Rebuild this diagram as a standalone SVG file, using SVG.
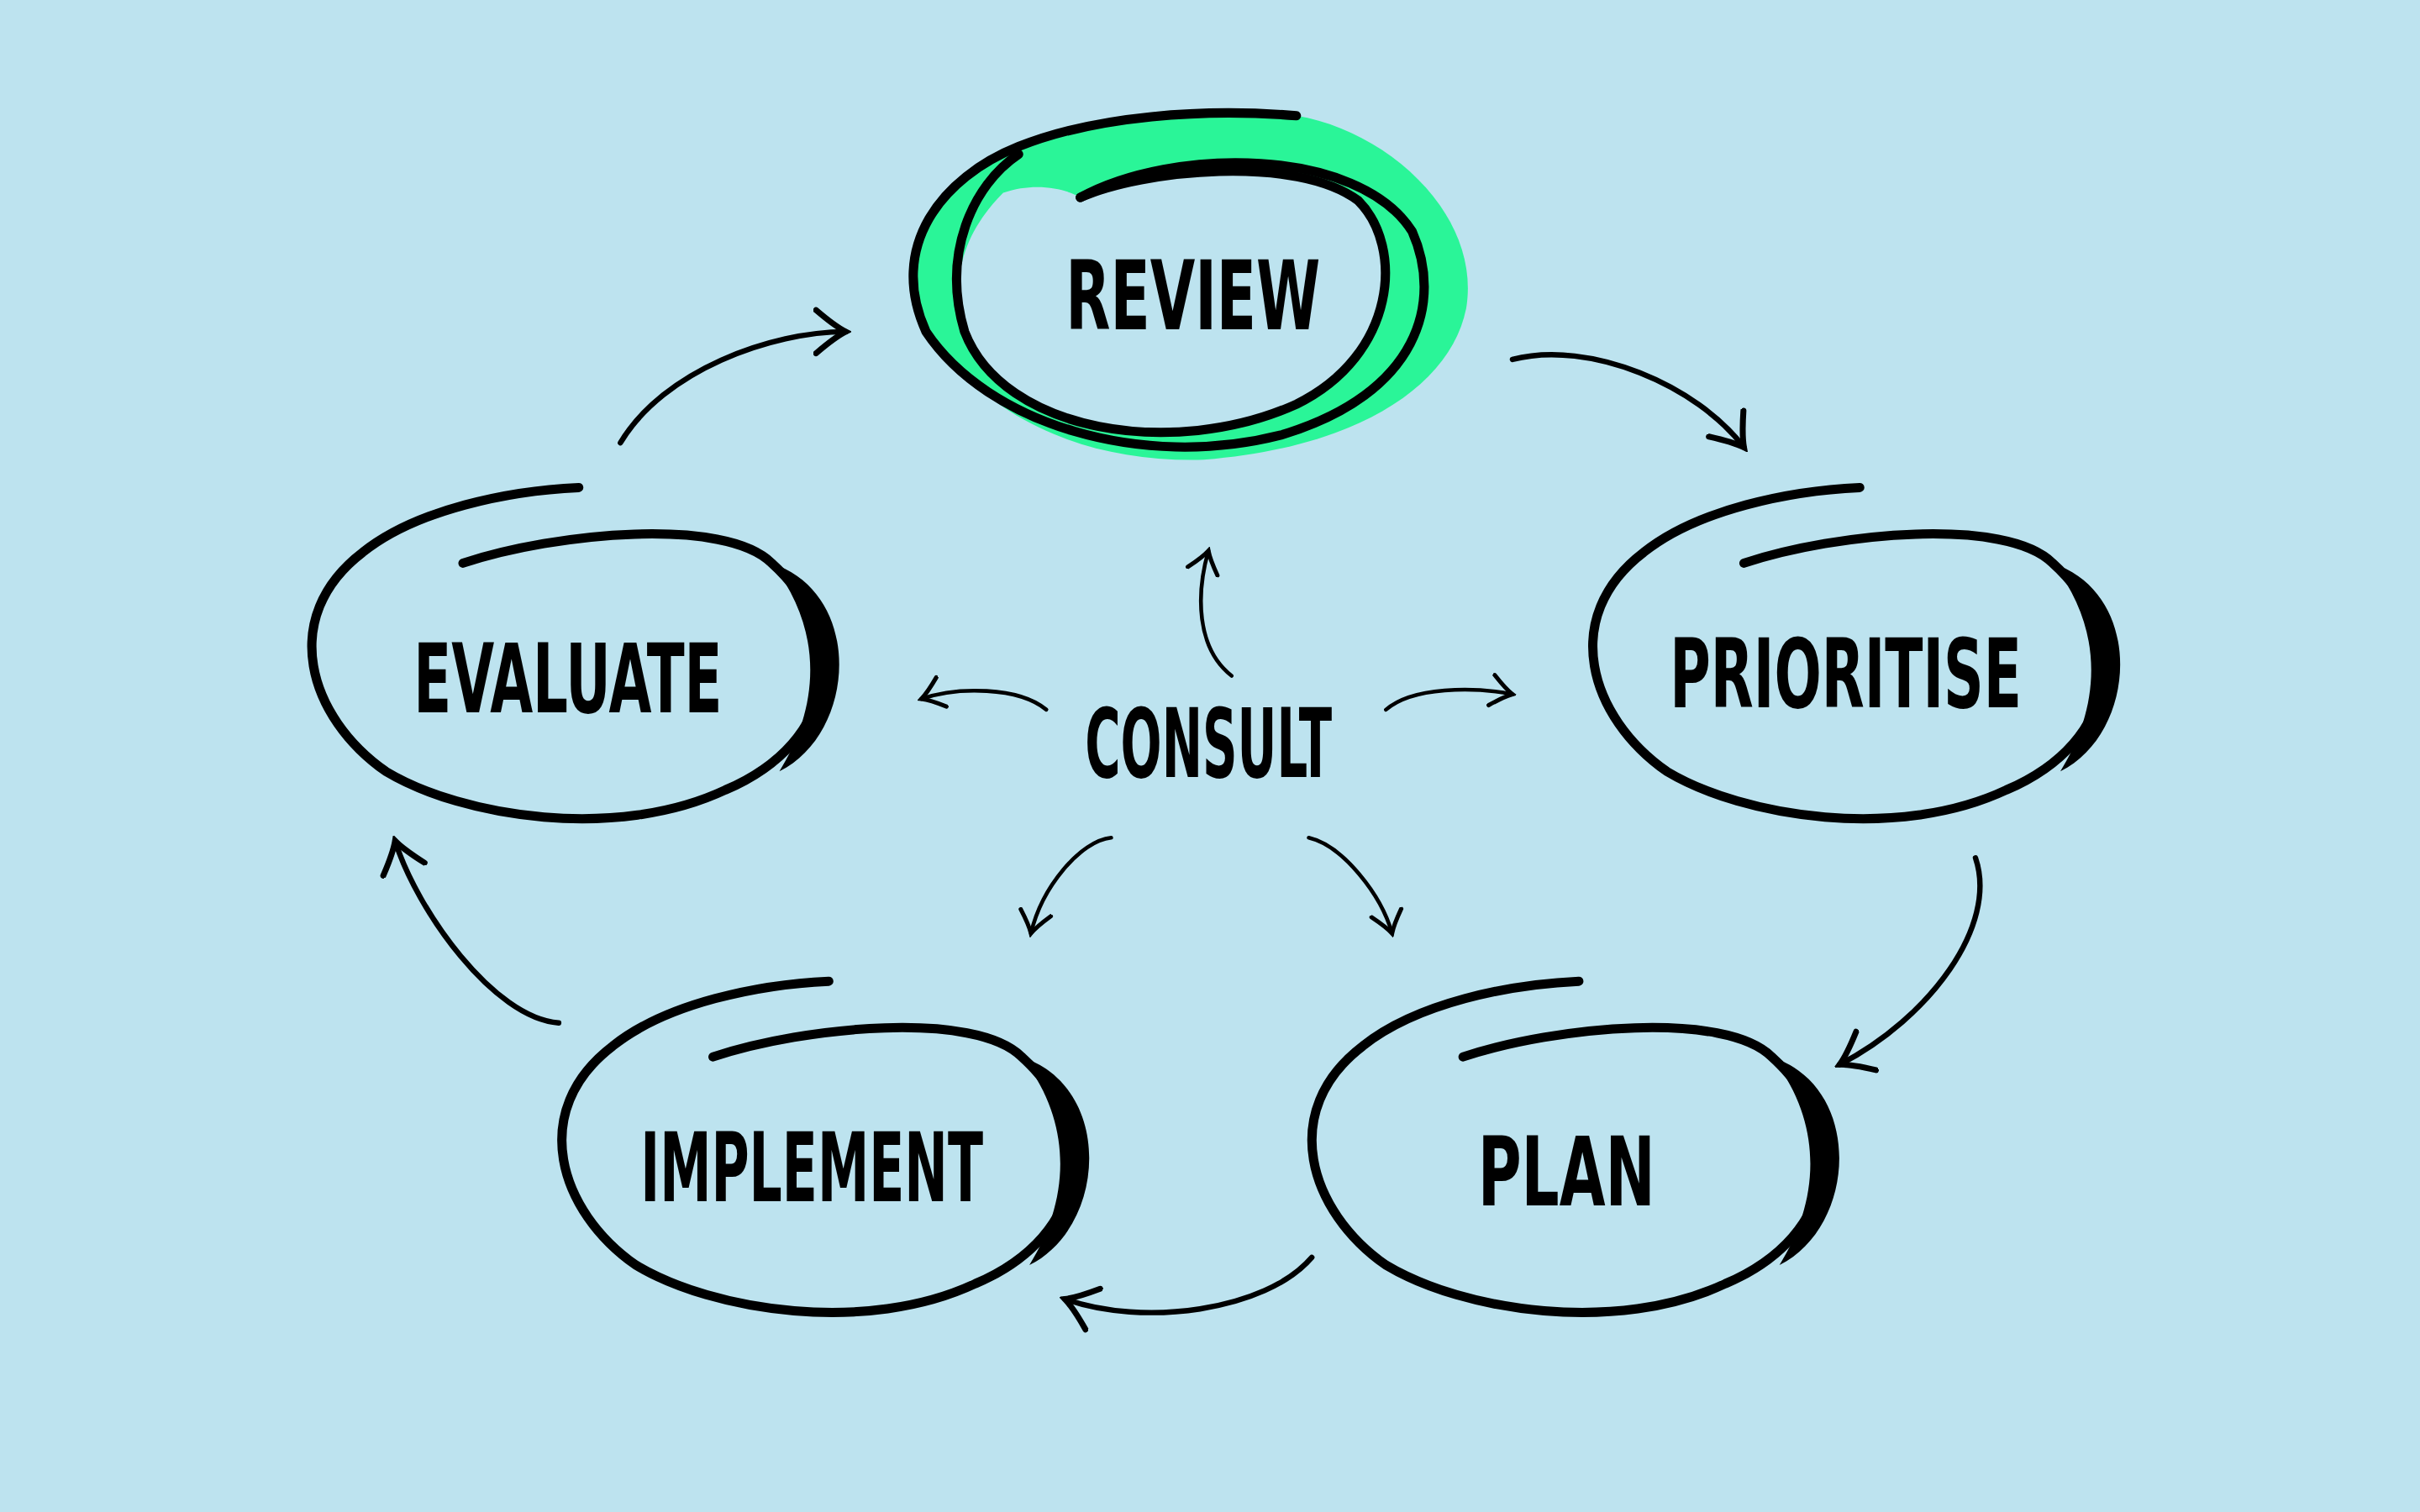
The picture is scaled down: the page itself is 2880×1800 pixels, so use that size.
<svg xmlns="http://www.w3.org/2000/svg" width="2880" height="1800" viewBox="0 0 2880 1800">
<defs>
<style>
.ring{fill:none;stroke:#000;stroke-width:6;stroke-linecap:round}
.cres{fill:#000;stroke:none}
.lbl{font-family:"DejaVu Sans Condensed","DejaVu Sans",sans-serif;font-size:62px;font-weight:600;fill:#000;text-anchor:middle;dominant-baseline:central}
.con{fill:none;stroke:#000;stroke-width:2.5;stroke-linecap:round}
.big{stroke-width:3.5}
</style>
<marker id="a" viewBox="-12 -10 14 20" refX="0" refY="0" markerWidth="7" markerHeight="10" orient="auto" markerUnits="strokeWidth">
<path d="M-11,-8 Q-4,-2 0,0 Q-4,2 -11,8" fill="none" stroke="#000" stroke-width="2.2" stroke-linecap="round"/>
</marker>
</defs>
<rect width="2880" height="1800" fill="#BDE3EF"/>
<g transform="scale(1.8367)">
<g id="review">
<path d="M600,215 C575,160 610,115 660,95 C710,75 780,70 840,75 C900,85 960,140 950,200 C940,250 880,290 780,298 C700,300 640,270 600,215 Z" fill="#2AF598"/>
<path d="M700,128 C740,110 840,100 880,130 C910,160 905,230 840,262 C760,298 650,280 625,215 C615,180 625,150 650,125 C670,118 690,122 700,128 Z" fill="#BDE3EF"/>
<path class="ring" d="M700,128 C760,95 880,95 915,150 C935,195 920,255 830,282 C740,305 640,275 600,215 C575,160 610,115 660,95 C710,75 780,70 840,75"/>
<path class="ring" d="M700,128 C740,110 840,100 880,130 C910,160 905,230 840,262 C760,298 650,280 625,215 C610,165 630,120 660,100"/>
<text class="lbl" x="773" y="192" textLength="165" lengthAdjust="spacingAndGlyphs">REVIEW</text>
</g>
<g id="evaluate">
<path class="ring" d="M300,365 C360,345 470,335 500,365 C550,410 545,480 470,512 C400,545 300,530 250,500 C200,465 180,400 235,358 C270,330 330,318 375,316"/>
<path class="cres" d="M500,365 C560,385 555,475 505,500 C530,460 535,410 500,365 Z"/>
<text class="lbl" x="368" y="440" textLength="200" lengthAdjust="spacingAndGlyphs">EVALUATE</text>
</g>
<g id="prioritise">
<path class="ring" d="M1130,365 C1190,345 1300,335 1330,365 C1380,410 1375,480 1300,512 C1230,545 1130,530 1080,500 C1030,465 1010,400 1065,358 C1100,330 1160,318 1205,316"/>
<path class="cres" d="M1330,365 C1390,385 1385,475 1335,500 C1360,460 1365,410 1330,365 Z"/>
<text class="lbl" x="1196" y="437" textLength="228" lengthAdjust="spacingAndGlyphs">PRIORITISE</text>
</g>
<g id="implement">
<path class="ring" d="M462,685 C522,665 632,655 662,685 C712,730 707,800 632,832 C562,865 462,850 412,820 C362,785 342,720 397,678 C432,650 492,638 537,636"/>
<path class="cres" d="M662,685 C722,705 717,795 667,820 C692,780 697,730 662,685 Z"/>
<text class="lbl" x="526" y="757" textLength="222" lengthAdjust="spacingAndGlyphs">IMPLEMENT</text>
</g>
<g id="plan">
<path class="ring" d="M948,685 C1008,665 1118,655 1148,685 C1198,730 1193,800 1118,832 C1048,865 948,850 898,820 C848,785 828,720 883,678 C918,650 978,638 1023,636"/>
<path class="cres" d="M1148,685 C1208,705 1203,795 1153,820 C1178,780 1183,730 1148,685 Z"/>
<text class="lbl" x="1015" y="760" textLength="115" lengthAdjust="spacingAndGlyphs">PLAN</text>
</g>
<g id="consult">
<text class="lbl" x="783" y="482" textLength="160" lengthAdjust="spacingAndGlyphs">CONSULT</text>
</g>
<g id="connectors">
<path class="con big" marker-end="url(#a)" d="M402,287 C430,240 500,215 548,215"/>
<path class="con big" marker-end="url(#a)" d="M980,233 C1030,220 1100,250 1130,290"/>
<path class="con big" marker-end="url(#a)" d="M1280,556 C1295,600 1250,660 1192,690"/>
<path class="con big" marker-end="url(#a)" d="M850,815 C820,850 740,860 690,842"/>
<path class="con big" marker-end="url(#a)" d="M362,663 C320,660 270,590 256,545"/>
<path class="con" marker-end="url(#a)" d="M798,438 C775,420 775,385 783,357"/>
<path class="con" marker-end="url(#a)" d="M678,460 C660,445 620,445 597,453"/>
<path class="con" marker-end="url(#a)" d="M898,460 C915,445 955,445 980,450"/>
<path class="con" marker-end="url(#a)" d="M720,543 C700,545 675,575 668,605"/>
<path class="con" marker-end="url(#a)" d="M848,543 C870,548 895,580 902,605"/>
</g>
</g>
</svg>
